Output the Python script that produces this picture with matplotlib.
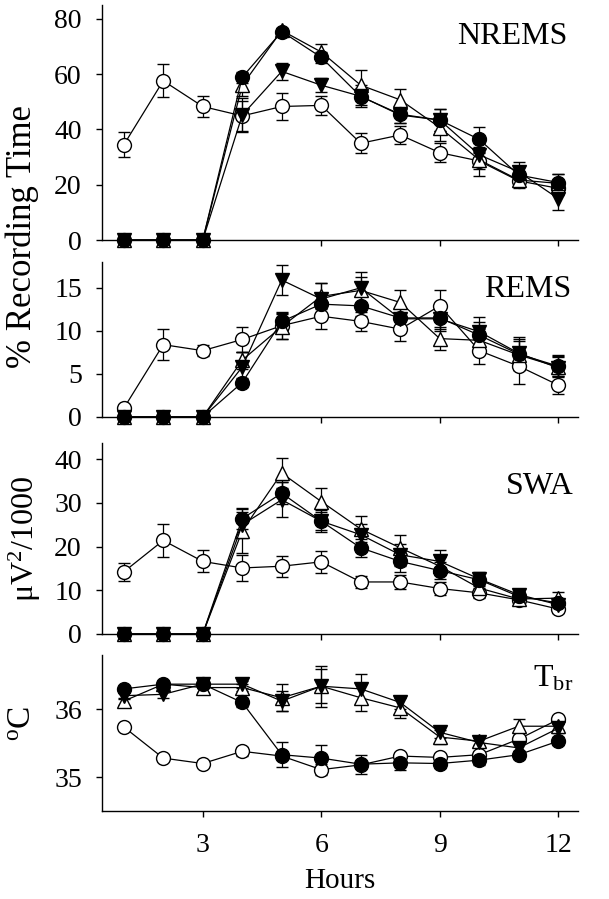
import numpy as np
import matplotlib
matplotlib.use("Agg")
import matplotlib.pyplot as plt

plt.rcParams['font.family'] = ['Liberation Serif', 'DejaVu Serif']
plt.rcParams['mathtext.fontset'] = 'custom'
plt.rcParams['mathtext.rm'] = 'Liberation Serif'
plt.rcParams['mathtext.it'] = 'Liberation Serif:italic'

hours = np.arange(1, 13)

# NREMS (% recording time)
nrems_oc = [34.4, 57.6, 48.3, 44.9, 48.3, 48.7, 35.0, 38.0, 31.6, 28.6, 21.4, 18.7]
nrems_oc_e = [4.5, 6.0, 3.8, 5.5, 4.8, 3.5, 3.7, 3.3, 3.5, 3.0, 2.0, 2.5]
nrems_fc = [0, 0, 0, 58.9, 75.4, 66.1, 51.9, 45.5, 43.4, 36.4, 23.5, 20.8]
nrems_fc_e = [0, 0, 0, 2.0, 1.0, 2.0, 3.0, 3.0, 4.0, 4.5, 3.0, 3.0]
nrems_ot = [0, 0, 0, 56.0, 75.8, 68.0, 56.0, 50.7, 40.7, 29.0, 21.7, 20.5]
nrems_ot_e = [0, 0, 0, 4.0, 1.0, 3.0, 5.5, 4.0, 5.0, 6.0, 3.0, 3.5]
nrems_dt = [0, 0, 0, 45.2, 61.0, 56.0, 52.0, 45.2, 43.4, 30.8, 24.7, 15.0]
nrems_dt_e = [0, 0, 0, 6.0, 3.0, 2.5, 4.0, 3.0, 4.0, 3.0, 3.5, 4.0]

# REMS (% recording time)
rems_oc = [1.0, 8.4, 7.7, 9.0, 10.6, 11.7, 11.1, 10.2, 12.9, 7.7, 5.9, 3.7]
rems_oc_e = [0.3, 1.8, 0.6, 1.4, 1.5, 1.5, 1.1, 1.4, 1.8, 1.6, 2.1, 1.0]
rems_fc = [0, 0, 0, 4.0, 11.1, 13.1, 12.9, 11.5, 11.5, 9.5, 7.3, 5.9]
rems_fc_e = [0, 0, 0, 0.5, 1.1, 1.3, 1.2, 1.3, 1.3, 1.5, 1.8, 1.2]
rems_ot = [0, 0, 0, 6.6, 10.5, 14.0, 14.7, 13.3, 9.1, 8.9, 7.2, 5.8]
rems_ot_e = [0, 0, 0, 1.0, 1.5, 1.5, 1.5, 1.5, 1.3, 1.3, 1.6, 1.2]
rems_dt = [0, 0, 0, 5.8, 15.9, 13.7, 15.0, 11.4, 11.4, 9.9, 7.4, 5.7]
rems_dt_e = [0, 0, 0, 1.7, 1.7, 1.8, 1.8, 1.4, 1.4, 1.7, 1.9, 1.5]

# SWA (uV^2/1000)
swa_oc = [14.2, 21.4, 16.6, 15.1, 15.5, 16.5, 11.9, 11.9, 10.4, 9.4, 7.8, 5.7]
swa_oc_e = [2.0, 3.8, 2.5, 3.0, 2.4, 2.5, 1.3, 1.7, 1.5, 1.2, 1.2, 1.0]
swa_fc = [0, 0, 0, 26.4, 32.2, 25.8, 19.7, 16.6, 14.5, 12.4, 8.6, 7.1]
swa_fc_e = [0, 0, 0, 2.5, 2.5, 2.0, 2.0, 2.5, 2.0, 1.5, 1.2, 1.0]
swa_ot = [0, 0, 0, 23.6, 36.8, 30.3, 24.0, 19.7, 15.5, 10.5, 8.0, 8.2]
swa_ot_e = [0, 0, 0, 5.0, 3.5, 3.0, 3.0, 3.0, 2.0, 2.0, 1.3, 1.5]
swa_dt = [0, 0, 0, 25.0, 30.7, 25.8, 22.7, 18.1, 16.6, 12.6, 9.0, 6.7]
swa_dt_e = [0, 0, 0, 3.0, 4.0, 2.5, 2.5, 2.5, 2.5, 1.5, 1.3, 1.0]

# Tbr (deg C)
tbr_oc = [35.74, 35.28, 35.20, 35.38, 35.31, 35.11, 35.18, 35.31, 35.29, 35.33, 35.56, 35.85]
tbr_oc_e = [0.05, 0.04, 0.04, 0.07, 0.05, 0.08, 0.05, 0.05, 0.04, 0.04, 0.04, 0.05]
tbr_fc = [36.30, 36.37, 36.37, 36.10, 35.33, 35.28, 35.19, 35.21, 35.20, 35.25, 35.33, 35.53]
tbr_fc_e = [0.05, 0.04, 0.06, 0.06, 0.18, 0.20, 0.14, 0.10, 0.06, 0.07, 0.06, 0.06]
tbr_ot = [36.12, 36.37, 36.32, 36.32, 36.17, 36.34, 36.17, 36.02, 35.59, 35.53, 35.75, 35.75]
tbr_ot_e = [0.05, 0.05, 0.06, 0.05, 0.20, 0.30, 0.20, 0.15, 0.10, 0.06, 0.10, 0.06]
tbr_dt = [36.20, 36.22, 36.37, 36.37, 36.12, 36.34, 36.30, 36.10, 35.66, 35.51, 35.43, 35.72]
tbr_dt_e = [0.05, 0.05, 0.05, 0.05, 0.15, 0.25, 0.22, 0.10, 0.08, 0.06, 0.07, 0.07]

panels = [
    dict(data=[(nrems_oc, nrems_oc_e), (nrems_ot, nrems_ot_e), (nrems_dt, nrems_dt_e), (nrems_fc, nrems_fc_e)],
         ylim=(0, 85), yticks=[0, 20, 40, 60, 80], title='NREMS', tpos=(0.977, 0.864)),
    dict(data=[(rems_oc, rems_oc_e), (rems_ot, rems_ot_e), (rems_dt, rems_dt_e), (rems_fc, rems_fc_e)],
         ylim=(0, 18), yticks=[0, 5, 10, 15], title='REMS', tpos=(0.985, 0.82)),
    dict(data=[(swa_oc, swa_oc_e), (swa_ot, swa_ot_e), (swa_dt, swa_dt_e), (swa_fc, swa_fc_e)],
         ylim=(0, 43.7), yticks=[0, 10, 20, 30, 40], title='SWA', tpos=(0.99, 0.77)),
    dict(data=[(tbr_oc, tbr_oc_e), (tbr_ot, tbr_ot_e), (tbr_dt, tbr_dt_e), (tbr_fc, tbr_fc_e)],
         ylim=(34.5, 36.8), yticks=[35, 36], title=r'$\mathrm{T}_{\mathrm{br}}$', tpos=(0.99, 0.85)),
]

styles = [
    dict(marker='o', mfc='white', ms=10),
    dict(marker='^', mfc='white', ms=10.5),
    dict(marker='v', mfc='black', ms=10.5),
    dict(marker='o', mfc='black', ms=10),
]

fig = plt.figure(figsize=(6.09, 8.99), dpi=100)
positions = [
    (0.1675, 0.7330, 0.7816, 0.2614),
    (0.1675, 0.5362, 0.7816, 0.1724),
    (0.1675, 0.2948, 0.7816, 0.2125),
    (0.1675, 0.0979, 0.7816, 0.1735),
]

axes = []
for i, (p, pos) in enumerate(zip(panels, positions)):
    ax = fig.add_axes(pos)
    axes.append(ax)
    for (vals, errs), st in zip(p['data'], styles):
        eb = ax.errorbar(hours, vals, yerr=errs, color='black', lw=0.9,
                         marker=st['marker'], mfc=st['mfc'], mec='black', mew=1.0,
                         ms=st['ms'], capsize=4, elinewidth=0.9, capthick=0.9)
        for art in eb.get_children():
            art.set_clip_on(False)
    ax.set_xlim(0.45, 12.5)
    ax.set_ylim(*p['ylim'])
    ax.set_yticks(p['yticks'])
    ax.set_xticks([3, 6, 9, 12])
    ax.spines['top'].set_visible(False)
    ax.spines['right'].set_visible(False)
    for s in ('left', 'bottom'):
        ax.spines[s].set_linewidth(1.0)
    ax.tick_params(direction='out', length=4, width=1.0, labelsize=20)
    ax.tick_params(axis='y', pad=10.5)
    ax.tick_params(axis='x', pad=12)
    if i < 3:
        ax.tick_params(axis='x', labelbottom=False)
    ax.text(p['tpos'][0], p['tpos'][1], p['title'], transform=ax.transAxes,
            ha='right', va='center', fontsize=23)

axes[3].set_xlabel('Hours', fontsize=21, labelpad=7)
fig.text(0.036, 1 - 236 / 899, '% Recording Time', rotation=90, ha='center', va='center', fontsize=25)
fig.text(0.041, 1 - 539 / 899, r'$\mathrm{\mu V}^{2}\mathrm{/1000}$', rotation=90, ha='center', va='center', fontsize=23)
fig.text(0.038, 1 - 723 / 899, r'$^{\mathrm{o}}\mathrm{C}$', rotation=90, ha='center', va='center', fontsize=24)

fig.savefig('out.png', dpi=100)
